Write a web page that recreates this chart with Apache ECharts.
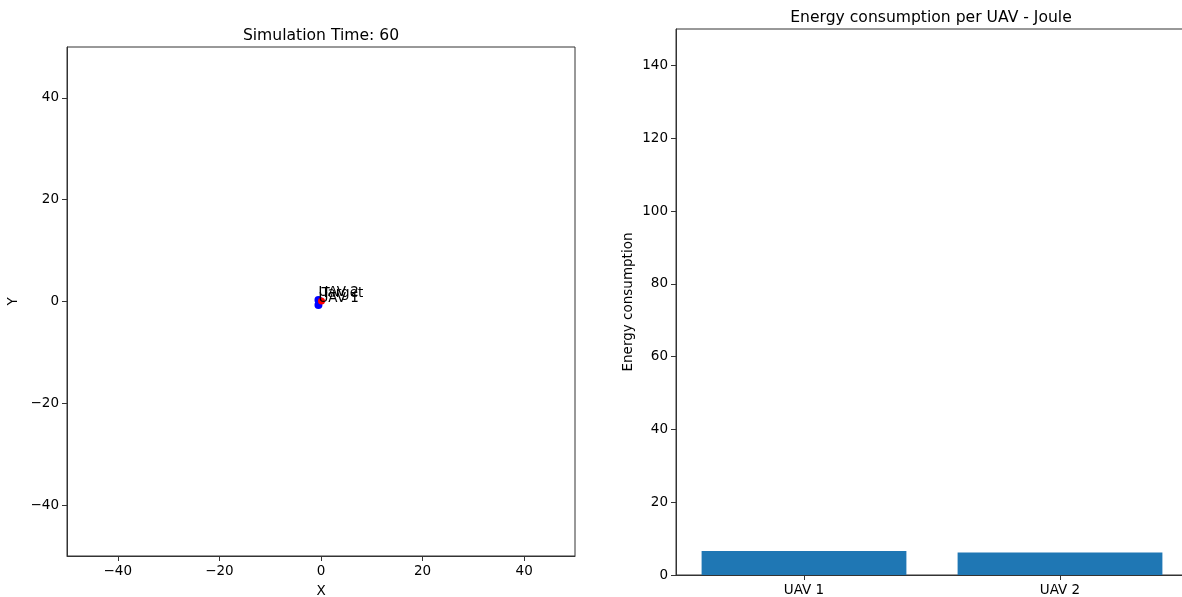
<!DOCTYPE html>
<html>
<head>
<meta charset="utf-8">
<script src="https://cdn.jsdelivr.net/npm/echarts@6/dist/echarts.min.js"></script>
<style>
html,body{margin:0;padding:0;background:#fff;overflow:hidden;}
#chart{width:1182px;height:597px;}
</style>
</head>
<body>
<div id="chart"></div>
<script>
// ---- data ----
var simTitle = 'Simulation Time: 60';
var barTitle = 'Energy consumption per UAV - Joule';
var uavNames = ['UAV 1', 'UAV 2'];
var uavX = [-0.5, -0.5];
var uavY = [-0.7, 0.3];
var targetName = 'Target';
var targetPos = [0.1, 0.1];
var energy = [6.6, 6.2];
var posTicks = [-40, -20, 0, 20, 40];
var energyTicks = [0, 20, 40, 60, 80, 100, 120, 140];

var FONT = 'DejaVu Sans';
var AX = '#333';
function minus(v){ return String(v).replace('-', '\u2212'); }

var uavData = uavNames.map(function(n, i){ return {name: n, value: [uavX[i], uavY[i]]}; });

var chart = echarts.init(document.getElementById('chart'), null, {renderer: 'canvas'});
var option = {
  animation: false,
  backgroundColor: '#fff',
  textStyle: {fontFamily: FONT},
  title: [
    {text: simTitle, left: 321, top: 28, textAlign: 'center', padding: 0,
     textStyle: {fontFamily: FONT, fontSize: 15.6, fontWeight: 'normal', color: '#000'}},
    {text: barTitle, left: 931, top: 10, textAlign: 'center', padding: 0,
     textStyle: {fontFamily: FONT, fontSize: 15.6, fontWeight: 'normal', color: '#000'}}
  ],
  grid: [
    {left: 67, top: 47, width: 508, height: 509, show: true, borderColor: AX, borderWidth: 1,
     containLabel: false, outerBoundsMode: 'none'},
    {left: 676, top: 29, width: 512, height: 546, show: true, borderColor: AX, borderWidth: 1,
     containLabel: false, outerBoundsMode: 'none'}
  ],
  xAxis: [
    {type: 'value', gridIndex: 0, min: -50, max: 50,
     name: 'X', nameLocation: 'middle', nameGap: 28,
     nameTextStyle: {fontFamily: FONT, fontSize: 13.5, color: '#000'},
     axisLine: {show: true, onZero: false, lineStyle: {color: AX, width: 1}},
     axisTick: {show: true, length: 5, inside: false, customValues: posTicks, lineStyle: {color: AX}},
     axisLabel: {show: true, customValues: posTicks, formatter: minus, fontFamily: FONT, fontSize: 13.5, color: '#000', margin: 8},
     splitLine: {show: false}},
    {type: 'category', gridIndex: 1, data: uavNames,
     axisLine: {show: true, lineStyle: {color: AX, width: 1}},
     axisTick: {show: true, alignWithLabel: true, length: 5, lineStyle: {color: AX}},
     axisLabel: {fontFamily: FONT, fontSize: 13.5, color: '#000', margin: 8},
     splitLine: {show: false}}
  ],
  yAxis: [
    {type: 'value', gridIndex: 0, min: -50, max: 50,
     name: 'Y', nameLocation: 'middle', nameGap: 47, nameRotate: 90,
     nameTextStyle: {fontFamily: FONT, fontSize: 13.5, color: '#000'},
     axisLine: {show: true, onZero: false, lineStyle: {color: AX, width: 1}},
     axisTick: {show: true, length: 5, customValues: posTicks, lineStyle: {color: AX}},
     axisLabel: {show: true, customValues: posTicks, formatter: minus, fontFamily: FONT, fontSize: 13.5, color: '#000', margin: 8},
     splitLine: {show: false}},
    {type: 'value', gridIndex: 1, min: 0, max: 150,
     name: 'Energy consumption', nameLocation: 'middle', nameGap: 41, nameRotate: 90,
     nameTextStyle: {fontFamily: FONT, fontSize: 13.5, color: '#000'},
     axisLine: {show: true, lineStyle: {color: AX, width: 1}},
     axisTick: {show: true, length: 5, customValues: energyTicks, lineStyle: {color: AX}},
     axisLabel: {fontFamily: FONT, fontSize: 13.5, color: '#000', margin: 8, customValues: energyTicks},
     splitLine: {show: false}}
  ],
  series: [
    {type: 'scatter', xAxisIndex: 0, yAxisIndex: 0, data: uavData,
     symbolSize: 8, itemStyle: {color: 'blue', opacity: 1},
     label: {show: true, formatter: '{b}', position: [4, 4], align: 'left', verticalAlign: 'bottom',
             fontFamily: FONT, fontSize: 13.5, color: '#000'}},
    {type: 'scatter', xAxisIndex: 0, yAxisIndex: 0,
     data: [{name: targetName, value: targetPos}],
     symbolSize: 7, itemStyle: {color: 'red', opacity: 1},
     label: {show: true, formatter: '{b}', position: [3.5, 3.5], align: 'left', verticalAlign: 'bottom',
             fontFamily: FONT, fontSize: 13.5, color: '#000'}},
    {type: 'bar', xAxisIndex: 1, yAxisIndex: 1, data: energy, barWidth: '80%',
     itemStyle: {color: '#1f77b4'}}
  ]
};
chart.setOption(option);
</script>
</body>
</html>
